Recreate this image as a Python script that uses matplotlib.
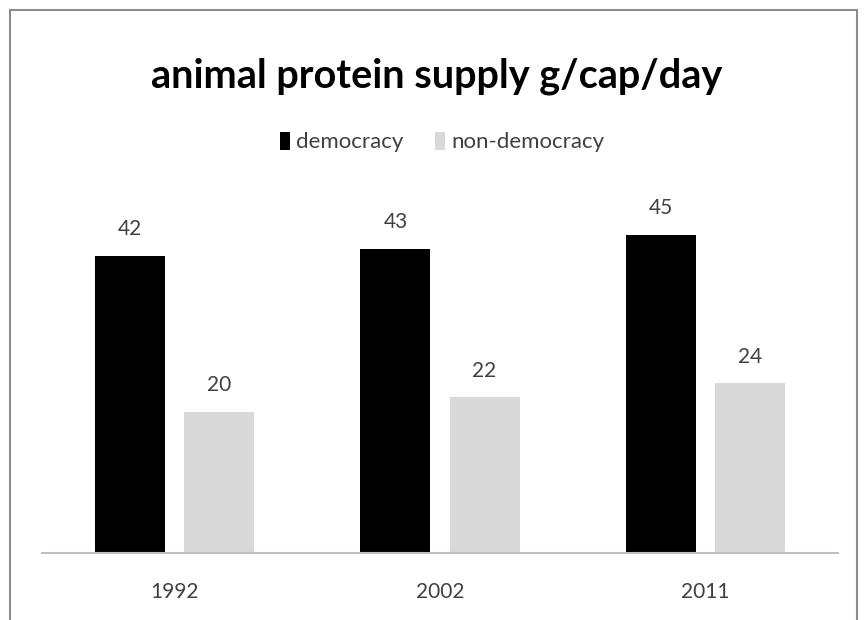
import numpy as np
import matplotlib.pyplot as plt
from matplotlib.patches import Rectangle

years = ['1992', '2002', '2011']
democracy = [42, 43, 45]
non_democracy = [20, 22, 24]

plt.rcParams['font.family'] = ['Lato', 'DejaVu Sans']

fig = plt.figure(figsize=(8.64, 6.2), dpi=100)
ax = fig.add_axes([42 / 864, 67 / 620, 796 / 864, 353.5 / 620])

x = np.arange(len(years))
w = 0.264
off = 0.168
b1 = ax.bar(x - off, democracy, w, color='black', label='democracy')
b2 = ax.bar(x + off, non_democracy, w, color='#d9d9d9', label='non-democracy')

for bars, vals in ((b1, democracy), (b2, non_democracy)):
    for b, v in zip(bars, vals):
        ax.annotate(str(v), (b.get_x() + b.get_width() / 2, v), xytext=(0, 12),
                    textcoords='offset points', ha='center', va='bottom',
                    fontsize=15, color='#404040')

ax.set_xlim(-0.5, 2.5)
ax.set_ylim(0, 50)
ax.set_xticks(x)
ax.set_xticklabels(years, fontsize=15, color='#404040')
ax.tick_params(axis='x', length=0, pad=21)
ax.set_yticks([])
for s in ['top', 'left', 'right']:
    ax.spines[s].set_visible(False)
ax.spines['bottom'].set_color('#bfbfbf')
ax.spines['bottom'].set_linewidth(1.5)

fig.text(437 / 864, 1 - 76 / 620, 'animal protein supply g/cap/day', ha='center', va='center',
         fontsize=28.5, fontweight='bold', color='black')
fig.legend(handles=[b1, b2], loc='center', bbox_to_anchor=(442 / 864, 1 - 142 / 620),
           ncol=2, frameon=False, fontsize=16, handlelength=0.45, handleheight=0.9,
           handletextpad=0.3, columnspacing=1.4, labelcolor='#404040')

# chart border
fig.patches.append(Rectangle((10 / 864, -0.1), 847 / 864, 1.1 - 10 / 620, transform=fig.transFigure,
                             fill=False, edgecolor='#8c8c8c', linewidth=1.5))

fig.savefig('out.png', dpi=100)
